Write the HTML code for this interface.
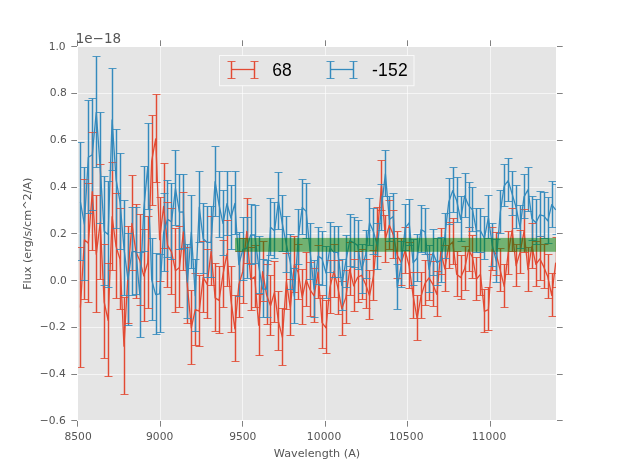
<!DOCTYPE html>
<html lang="en"><head><meta charset="utf-8"><title>Flux vs Wavelength</title>
<style>html,body{margin:0;padding:0;background:#fff}body{width:617px;height:467px;overflow:hidden}</style></head>
<body>
<svg width="617" height="467" viewBox="0 0 617 467" style="display:block;font-family:'DejaVu Sans','Liberation Sans',sans-serif">
<defs><clipPath id="ax"><rect x="78" y="47" width="478" height="373"/></clipPath></defs>
<rect width="617" height="467" fill="#fff"/>
<rect x="78" y="47" width="478" height="373" fill="#E5E5E5"/>
<path d="M77.5 47V420M160.5 47V420M242.5 47V420M325.5 47V420M407.5 47V420M490.5 47V420M78 420.5H556M78 374.5H556M78 327.5H556M78 280.5H556M78 233.5H556M78 187.5H556M78 140.5H556M78 93.5H556M78 46.5H556" stroke="#fff" stroke-width="1" stroke-opacity="0.62" fill="none"/>
<path d="M77.5 421v5.7M77.5 46v-5.7M160.5 421v5.7M160.5 46v-5.7M242.5 421v5.7M242.5 46v-5.7M325.5 421v5.7M325.5 46v-5.7M407.5 421v5.7M407.5 46v-5.7M490.5 421v5.7M490.5 46v-5.7M77 420.5h-5.7M557 420.5h5.7M77 374.5h-5.7M557 374.5h5.7M77 327.5h-5.7M557 327.5h5.7M77 280.5h-5.7M557 280.5h5.7M77 233.5h-5.7M557 233.5h5.7M77 187.5h-5.7M557 187.5h5.7M77 140.5h-5.7M557 140.5h5.7M77 93.5h-5.7M557 93.5h5.7M77 46.5h-5.7M557 46.5h5.7" stroke="#555" stroke-width="1" stroke-opacity="0.74" fill="none"/>
<g clip-path="url(#ax)">
<path d="M80.5 247.5V367.5M84.5 179.5V299.5M88.5 183.5V302.5M92.5 132.5V250.5M96.5 195.5V312.5M100.5 164.5V279.5M104.5 244.5V358.5M108.5 263.5V376.5M112.5 162.5V270.5M116.5 193.5V298.5M120.5 208.5V309.5M124.5 297.5V394.5M128.5 226.5V323.5M132.5 175.5V270.5M136.5 204.5V298.5M140.5 214.5V305.5M144.5 229.5V321.5M148.5 216.5V308.5M152.5 115.5V205.5M156.5 94.5V182.5M160.5 197.5V281.5M164.5 163.5V248.5M167.5 202.5V287.5M171.5 208.5V294.5M175.5 228.5V312.5M179.5 226.5V307.5M183.5 192.5V270.5M187.5 247.5V323.5M191.5 290.5V364.5M195.5 273.5V345.5M199.5 275.5V346.5M203.5 241.5V312.5M207.5 249.5V318.5M211.5 216.5V285.5M215.5 263.5V331.5M219.5 266.5V333.5M223.5 240.5V307.5M227.5 220.5V286.5M231.5 266.5V332.5M235.5 295.5V361.5M239.5 251.5V317.5M243.5 238.5V303.5M247.5 198.5V263.5M251.5 247.5V310.5M255.5 245.5V307.5M259.5 294.5V355.5M263.5 241.5V301.5M267.5 264.5V324.5M270.5 275.5V335.5M274.5 261.5V322.5M278.5 291.5V350.5M282.5 308.5V365.5M286.5 253.5V309.5M290.5 279.5V335.5M294.5 236.5V292.5M298.5 244.5V299.5M302.5 269.5V324.5M306.5 252.5V306.5M310.5 262.5V316.5M314.5 268.5V322.5M318.5 245.5V298.5M322.5 295.5V348.5M326.5 300.5V353.5M330.5 260.5V313.5M334.5 244.5V297.5M338.5 260.5V314.5M342.5 281.5V335.5M346.5 270.5V323.5M350.5 242.5V295.5M354.5 259.5V311.5M358.5 251.5V302.5M362.5 249.5V299.5M366.5 259.5V308.5M369.5 270.5V319.5M373.5 250.5V300.5M377.5 207.5V256.5M381.5 160.5V210.5M385.5 215.5V262.5M389.5 200.5V249.5M393.5 210.5V258.5M397.5 231.5V278.5M401.5 238.5V285.5M405.5 227.5V273.5M409.5 242.5V288.5M413.5 272.5V318.5M417.5 295.5V340.5M421.5 272.5V318.5M425.5 260.5V305.5M429.5 254.5V300.5M433.5 261.5V306.5M437.5 271.5V316.5M441.5 228.5V274.5M445.5 245.5V291.5M449.5 222.5V268.5M453.5 218.5V264.5M457.5 251.5V296.5M461.5 255.5V299.5M465.5 246.5V290.5M469.5 227.5V271.5M472.5 235.5V278.5M476.5 257.5V300.5M480.5 252.5V295.5M484.5 289.5V332.5M488.5 287.5V330.5M492.5 227.5V270.5M496.5 232.5V275.5M500.5 248.5V291.5M504.5 264.5V307.5M508.5 231.5V274.5M512.5 208.5V251.5M516.5 244.5V286.5M520.5 230.5V273.5M524.5 209.5V252.5M528.5 247.5V291.5M532.5 223.5V268.5M536.5 241.5V286.5M540.5 236.5V280.5M544.5 244.5V288.5M548.5 254.5V298.5M552.5 273.5V316.5M556.5 237.5V287.5" fill="none" stroke="#E24A33" stroke-width="1.45"/>
<path d="M80.5 142.5V260.5M84.5 167.5V280.5M88.5 100.5V213.5M92.5 98.5V210.5M96.5 56.5V167.5M100.5 112.5V223.5M104.5 176.5V285.5M108.5 181.5V287.5M112.5 68.5V170.5M116.5 129.5V228.5M120.5 153.5V249.5M124.5 200.5V295.5M128.5 233.5V325.5M132.5 207.5V295.5M136.5 207.5V294.5M140.5 252.5V337.5M144.5 166.5V251.5M148.5 123.5V209.5M152.5 238.5V320.5M156.5 253.5V334.5M160.5 254.5V332.5M164.5 193.5V271.5M167.5 180.5V257.5M171.5 183.5V259.5M175.5 150.5V225.5M179.5 174.5V249.5M183.5 174.5V248.5M187.5 244.5V318.5M191.5 195.5V268.5M195.5 259.5V331.5M199.5 171.5V242.5M203.5 203.5V273.5M207.5 206.5V277.5M211.5 206.5V277.5M215.5 146.5V216.5M219.5 171.5V237.5M223.5 190.5V255.5M227.5 171.5V235.5M231.5 185.5V249.5M235.5 171.5V234.5M239.5 232.5V296.5M243.5 217.5V280.5M247.5 217.5V278.5M251.5 204.5V264.5M255.5 205.5V263.5M259.5 236.5V293.5M263.5 259.5V317.5M267.5 260.5V317.5M270.5 198.5V255.5M274.5 202.5V258.5M278.5 172.5V229.5M282.5 195.5V251.5M286.5 216.5V272.5M290.5 234.5V289.5M294.5 268.5V323.5M298.5 209.5V264.5M302.5 179.5V234.5M306.5 183.5V238.5M310.5 223.5V279.5M314.5 260.5V317.5M318.5 227.5V284.5M322.5 231.5V285.5M326.5 246.5V298.5M330.5 222.5V272.5M334.5 226.5V277.5M338.5 226.5V277.5M342.5 259.5V310.5M346.5 235.5V287.5M350.5 214.5V266.5M354.5 217.5V267.5M358.5 220.5V269.5M362.5 244.5V293.5M366.5 230.5V278.5M369.5 198.5V245.5M373.5 208.5V254.5M377.5 223.5V269.5M381.5 184.5V230.5M385.5 150.5V196.5M389.5 196.5V241.5M393.5 193.5V238.5M397.5 264.5V309.5M401.5 241.5V287.5M405.5 204.5V250.5M409.5 199.5V245.5M413.5 239.5V285.5M417.5 234.5V281.5M421.5 205.5V252.5M425.5 208.5V254.5M429.5 245.5V292.5M433.5 229.5V275.5M437.5 238.5V285.5M441.5 237.5V282.5M445.5 213.5V258.5M449.5 178.5V224.5M453.5 167.5V212.5M457.5 177.5V222.5M461.5 196.5V241.5M465.5 173.5V217.5M469.5 182.5V227.5M472.5 187.5V231.5M476.5 208.5V252.5M480.5 208.5V252.5M484.5 216.5V259.5M488.5 195.5V238.5M492.5 223.5V266.5M496.5 239.5V282.5M500.5 190.5V233.5M504.5 164.5V206.5M508.5 158.5V201.5M512.5 171.5V215.5M516.5 185.5V228.5M520.5 205.5V248.5M524.5 174.5V218.5M528.5 167.5V211.5M532.5 196.5V240.5M536.5 199.5V244.5M540.5 191.5V236.5M544.5 192.5V238.5M548.5 197.5V243.5M552.5 181.5V227.5M556.5 184.5V234.5" fill="none" stroke="#348ABD" stroke-width="1.45"/>
<polyline points="80.41,307.60 84.37,239.80 88.33,243.30 92.29,191.60 96.25,254.30 100.21,222.60 104.18,302.20 108.14,320.30 112.10,216.70 116.06,246.40 120.02,259.30 123.98,346.20 127.94,275.40 131.90,223.40 135.86,251.90 139.82,260.40 143.78,275.80 147.74,262.80 151.70,160.80 155.67,138.80 159.63,239.70 163.59,206.50 167.55,245.30 171.51,251.80 175.47,270.70 179.43,267.40 183.39,231.80 187.35,285.60 191.31,327.90 195.27,309.70 199.23,311.20 203.19,277.40 207.16,284.40 211.12,251.30 215.08,297.90 219.04,300.40 223.00,274.30 226.96,253.90 230.92,299.80 234.88,328.80 238.84,284.70 242.80,271.40 246.76,231.30 250.72,279.50 254.68,276.90 258.64,325.20 262.61,271.70 266.57,294.90 270.53,305.80 274.49,292.40 278.45,321.70 282.41,337.30 286.37,281.60 290.33,308.20 294.29,264.80 298.25,272.40 302.21,297.40 306.17,279.80 310.13,289.90 314.10,295.80 318.06,272.20 322.02,322.60 325.98,327.80 329.94,287.40 333.90,271.40 337.86,287.70 341.82,308.90 345.78,297.60 349.74,269.30 353.70,285.80 357.66,277.40 361.62,275.30 365.59,284.30 369.55,295.70 373.51,275.80 377.47,232.10 381.43,185.90 385.39,238.90 389.35,225.30 393.31,234.90 397.27,255.40 401.23,262.40 405.19,250.60 409.15,266.20 413.11,295.60 417.08,318.40 421.04,296.20 425.00,283.40 428.96,277.90 432.92,284.40 436.88,294.40 440.84,251.60 444.80,268.80 448.76,245.90 452.72,241.90 456.68,274.30 460.64,277.60 464.60,268.80 468.57,249.90 472.53,257.30 476.49,279.00 480.45,274.30 484.41,311.40 488.37,309.70 492.33,249.40 496.29,254.30 500.25,270.40 504.21,286.40 508.17,253.30 512.13,230.40 516.09,265.60 520.06,252.40 524.02,231.40 527.98,269.70 531.94,246.40 535.90,264.40 539.86,258.90 543.82,266.90 547.78,276.80 551.74,295.40 555.70,262.70" fill="none" stroke="#E24A33" stroke-width="1.3" stroke-linejoin="round"/>
<path d="M76.50 247.5h8.00M76.50 367.5h8.00M80.50 179.5h8.00M80.50 299.5h8.00M84.50 183.5h8.00M84.50 302.5h8.00M88.50 132.5h8.00M88.50 250.5h8.00M92.50 195.5h8.00M92.50 312.5h8.00M96.50 164.5h8.00M96.50 279.5h8.00M100.50 244.5h8.00M100.50 358.5h8.00M104.50 263.5h8.00M104.50 376.5h8.00M108.50 162.5h8.00M108.50 270.5h8.00M112.50 193.5h8.00M112.50 298.5h8.00M116.50 208.5h8.00M116.50 309.5h8.00M120.50 297.5h8.00M120.50 394.5h8.00M124.50 226.5h8.00M124.50 323.5h8.00M128.50 175.5h8.00M128.50 270.5h8.00M132.50 204.5h8.00M132.50 298.5h8.00M136.50 214.5h8.00M136.50 305.5h8.00M140.50 229.5h8.00M140.50 321.5h8.00M144.50 216.5h8.00M144.50 308.5h8.00M148.50 115.5h8.00M148.50 205.5h8.00M152.50 94.5h8.00M152.50 182.5h8.00M156.50 197.5h8.00M156.50 281.5h8.00M160.50 163.5h8.00M160.50 248.5h8.00M163.50 202.5h8.00M163.50 287.5h8.00M167.50 208.5h8.00M167.50 294.5h8.00M171.50 228.5h8.00M171.50 312.5h8.00M175.50 226.5h8.00M175.50 307.5h8.00M179.50 192.5h8.00M179.50 270.5h8.00M183.50 247.5h8.00M183.50 323.5h8.00M187.50 290.5h8.00M187.50 364.5h8.00M191.50 273.5h8.00M191.50 345.5h8.00M195.50 275.5h8.00M195.50 346.5h8.00M199.50 241.5h8.00M199.50 312.5h8.00M203.50 249.5h8.00M203.50 318.5h8.00M207.50 216.5h8.00M207.50 285.5h8.00M211.50 263.5h8.00M211.50 331.5h8.00M215.50 266.5h8.00M215.50 333.5h8.00M219.50 240.5h8.00M219.50 307.5h8.00M223.50 220.5h8.00M223.50 286.5h8.00M227.50 266.5h8.00M227.50 332.5h8.00M231.50 295.5h8.00M231.50 361.5h8.00M235.50 251.5h8.00M235.50 317.5h8.00M239.50 238.5h8.00M239.50 303.5h8.00M243.50 198.5h8.00M243.50 263.5h8.00M247.50 247.5h8.00M247.50 310.5h8.00M251.50 245.5h8.00M251.50 307.5h8.00M255.50 294.5h8.00M255.50 355.5h8.00M259.50 241.5h8.00M259.50 301.5h8.00M263.50 264.5h8.00M263.50 324.5h8.00M266.50 275.5h8.00M266.50 335.5h8.00M270.50 261.5h8.00M270.50 322.5h8.00M274.50 291.5h8.00M274.50 350.5h8.00M278.50 308.5h8.00M278.50 365.5h8.00M282.50 253.5h8.00M282.50 309.5h8.00M286.50 279.5h8.00M286.50 335.5h8.00M290.50 236.5h8.00M290.50 292.5h8.00M294.50 244.5h8.00M294.50 299.5h8.00M298.50 269.5h8.00M298.50 324.5h8.00M302.50 252.5h8.00M302.50 306.5h8.00M306.50 262.5h8.00M306.50 316.5h8.00M310.50 268.5h8.00M310.50 322.5h8.00M314.50 245.5h8.00M314.50 298.5h8.00M318.50 295.5h8.00M318.50 348.5h8.00M322.50 300.5h8.00M322.50 353.5h8.00M326.50 260.5h8.00M326.50 313.5h8.00M330.50 244.5h8.00M330.50 297.5h8.00M334.50 260.5h8.00M334.50 314.5h8.00M338.50 281.5h8.00M338.50 335.5h8.00M342.50 270.5h8.00M342.50 323.5h8.00M346.50 242.5h8.00M346.50 295.5h8.00M350.50 259.5h8.00M350.50 311.5h8.00M354.50 251.5h8.00M354.50 302.5h8.00M358.50 249.5h8.00M358.50 299.5h8.00M362.50 259.5h8.00M362.50 308.5h8.00M365.50 270.5h8.00M365.50 319.5h8.00M369.50 250.5h8.00M369.50 300.5h8.00M373.50 207.5h8.00M373.50 256.5h8.00M377.50 160.5h8.00M377.50 210.5h8.00M381.50 215.5h8.00M381.50 262.5h8.00M385.50 200.5h8.00M385.50 249.5h8.00M389.50 210.5h8.00M389.50 258.5h8.00M393.50 231.5h8.00M393.50 278.5h8.00M397.50 238.5h8.00M397.50 285.5h8.00M401.50 227.5h8.00M401.50 273.5h8.00M405.50 242.5h8.00M405.50 288.5h8.00M409.50 272.5h8.00M409.50 318.5h8.00M413.50 295.5h8.00M413.50 340.5h8.00M417.50 272.5h8.00M417.50 318.5h8.00M421.50 260.5h8.00M421.50 305.5h8.00M425.50 254.5h8.00M425.50 300.5h8.00M429.50 261.5h8.00M429.50 306.5h8.00M433.50 271.5h8.00M433.50 316.5h8.00M437.50 228.5h8.00M437.50 274.5h8.00M441.50 245.5h8.00M441.50 291.5h8.00M445.50 222.5h8.00M445.50 268.5h8.00M449.50 218.5h8.00M449.50 264.5h8.00M453.50 251.5h8.00M453.50 296.5h8.00M457.50 255.5h8.00M457.50 299.5h8.00M461.50 246.5h8.00M461.50 290.5h8.00M465.50 227.5h8.00M465.50 271.5h8.00M468.50 235.5h8.00M468.50 278.5h8.00M472.50 257.5h8.00M472.50 300.5h8.00M476.50 252.5h8.00M476.50 295.5h8.00M480.50 289.5h8.00M480.50 332.5h8.00M484.50 287.5h8.00M484.50 330.5h8.00M488.50 227.5h8.00M488.50 270.5h8.00M492.50 232.5h8.00M492.50 275.5h8.00M496.50 248.5h8.00M496.50 291.5h8.00M500.50 264.5h8.00M500.50 307.5h8.00M504.50 231.5h8.00M504.50 274.5h8.00M508.50 208.5h8.00M508.50 251.5h8.00M512.50 244.5h8.00M512.50 286.5h8.00M516.50 230.5h8.00M516.50 273.5h8.00M520.50 209.5h8.00M520.50 252.5h8.00M524.50 247.5h8.00M524.50 291.5h8.00M528.50 223.5h8.00M528.50 268.5h8.00M532.50 241.5h8.00M532.50 286.5h8.00M536.50 236.5h8.00M536.50 280.5h8.00M540.50 244.5h8.00M540.50 288.5h8.00M544.50 254.5h8.00M544.50 298.5h8.00M548.50 273.5h8.00M548.50 316.5h8.00M552.50 237.5h8.00M552.50 287.5h8.00" fill="none" stroke="#E24A33" stroke-width="0.85"/>
<polyline points="80.41,201.80 84.37,224.10 88.33,157.20 92.29,154.80 96.25,112.30 100.21,168.10 104.18,231.20 108.14,234.60 112.10,119.80 116.06,179.30 120.02,201.80 123.98,248.40 127.94,279.60 131.90,251.80 135.86,251.40 139.82,294.90 143.78,209.30 147.74,166.80 151.70,279.80 155.67,294.60 159.63,293.80 163.59,232.70 167.55,219.40 171.51,221.80 175.47,188.50 179.43,212.10 183.39,211.80 187.35,282.00 191.31,232.20 195.27,295.70 199.23,207.20 203.19,238.80 207.16,242.40 211.12,242.40 215.08,181.60 219.04,204.80 223.00,223.30 226.96,203.70 230.92,218.00 234.88,203.40 238.84,264.70 242.80,249.70 246.76,248.20 250.72,234.90 254.68,235.00 258.64,265.40 262.61,289.00 266.57,289.10 270.53,227.30 274.49,230.80 278.45,201.30 282.41,224.10 286.37,244.70 290.33,262.30 294.29,296.10 298.25,237.40 302.21,207.50 306.17,211.40 310.13,251.80 314.10,289.20 318.06,256.10 322.02,258.60 325.98,273.00 329.94,247.70 333.90,252.30 337.86,252.40 341.82,285.40 345.78,261.70 349.74,240.80 353.70,242.70 357.66,245.40 361.62,269.80 365.59,254.90 369.55,222.80 373.51,231.70 377.47,246.60 381.43,207.90 385.39,173.90 389.35,219.40 393.31,216.40 397.27,287.30 401.23,264.80 405.19,227.90 409.15,222.80 413.11,262.70 417.08,258.30 421.04,229.60 425.00,231.80 428.96,269.30 432.92,252.90 436.88,262.40 440.84,260.40 444.80,236.40 448.76,201.90 452.72,190.70 456.68,200.60 460.64,219.40 464.60,195.90 468.57,205.60 472.53,209.90 476.49,230.80 480.45,230.80 484.41,238.20 488.37,217.70 492.33,245.70 496.29,261.20 500.25,212.30 504.21,185.80 508.17,180.60 512.13,193.90 516.09,207.40 520.06,227.40 524.02,196.90 527.98,189.70 531.94,218.80 535.90,222.70 539.86,214.80 543.82,215.80 547.78,220.90 551.74,204.70 555.70,209.90" fill="none" stroke="#348ABD" stroke-width="1.3" stroke-linejoin="round"/>
<path d="M76.50 142.5h8.00M76.50 260.5h8.00M80.50 167.5h8.00M80.50 280.5h8.00M84.50 100.5h8.00M84.50 213.5h8.00M88.50 98.5h8.00M88.50 210.5h8.00M92.50 56.5h8.00M92.50 167.5h8.00M96.50 112.5h8.00M96.50 223.5h8.00M100.50 176.5h8.00M100.50 285.5h8.00M104.50 181.5h8.00M104.50 287.5h8.00M108.50 68.5h8.00M108.50 170.5h8.00M112.50 129.5h8.00M112.50 228.5h8.00M116.50 153.5h8.00M116.50 249.5h8.00M120.50 200.5h8.00M120.50 295.5h8.00M124.50 233.5h8.00M124.50 325.5h8.00M128.50 207.5h8.00M128.50 295.5h8.00M132.50 207.5h8.00M132.50 294.5h8.00M136.50 252.5h8.00M136.50 337.5h8.00M140.50 166.5h8.00M140.50 251.5h8.00M144.50 123.5h8.00M144.50 209.5h8.00M148.50 238.5h8.00M148.50 320.5h8.00M152.50 253.5h8.00M152.50 334.5h8.00M156.50 254.5h8.00M156.50 332.5h8.00M160.50 193.5h8.00M160.50 271.5h8.00M163.50 180.5h8.00M163.50 257.5h8.00M167.50 183.5h8.00M167.50 259.5h8.00M171.50 150.5h8.00M171.50 225.5h8.00M175.50 174.5h8.00M175.50 249.5h8.00M179.50 174.5h8.00M179.50 248.5h8.00M183.50 244.5h8.00M183.50 318.5h8.00M187.50 195.5h8.00M187.50 268.5h8.00M191.50 259.5h8.00M191.50 331.5h8.00M195.50 171.5h8.00M195.50 242.5h8.00M199.50 203.5h8.00M199.50 273.5h8.00M203.50 206.5h8.00M203.50 277.5h8.00M207.50 206.5h8.00M207.50 277.5h8.00M211.50 146.5h8.00M211.50 216.5h8.00M215.50 171.5h8.00M215.50 237.5h8.00M219.50 190.5h8.00M219.50 255.5h8.00M223.50 171.5h8.00M223.50 235.5h8.00M227.50 185.5h8.00M227.50 249.5h8.00M231.50 171.5h8.00M231.50 234.5h8.00M235.50 232.5h8.00M235.50 296.5h8.00M239.50 217.5h8.00M239.50 280.5h8.00M243.50 217.5h8.00M243.50 278.5h8.00M247.50 204.5h8.00M247.50 264.5h8.00M251.50 205.5h8.00M251.50 263.5h8.00M255.50 236.5h8.00M255.50 293.5h8.00M259.50 259.5h8.00M259.50 317.5h8.00M263.50 260.5h8.00M263.50 317.5h8.00M266.50 198.5h8.00M266.50 255.5h8.00M270.50 202.5h8.00M270.50 258.5h8.00M274.50 172.5h8.00M274.50 229.5h8.00M278.50 195.5h8.00M278.50 251.5h8.00M282.50 216.5h8.00M282.50 272.5h8.00M286.50 234.5h8.00M286.50 289.5h8.00M290.50 268.5h8.00M290.50 323.5h8.00M294.50 209.5h8.00M294.50 264.5h8.00M298.50 179.5h8.00M298.50 234.5h8.00M302.50 183.5h8.00M302.50 238.5h8.00M306.50 223.5h8.00M306.50 279.5h8.00M310.50 260.5h8.00M310.50 317.5h8.00M314.50 227.5h8.00M314.50 284.5h8.00M318.50 231.5h8.00M318.50 285.5h8.00M322.50 246.5h8.00M322.50 298.5h8.00M326.50 222.5h8.00M326.50 272.5h8.00M330.50 226.5h8.00M330.50 277.5h8.00M334.50 226.5h8.00M334.50 277.5h8.00M338.50 259.5h8.00M338.50 310.5h8.00M342.50 235.5h8.00M342.50 287.5h8.00M346.50 214.5h8.00M346.50 266.5h8.00M350.50 217.5h8.00M350.50 267.5h8.00M354.50 220.5h8.00M354.50 269.5h8.00M358.50 244.5h8.00M358.50 293.5h8.00M362.50 230.5h8.00M362.50 278.5h8.00M365.50 198.5h8.00M365.50 245.5h8.00M369.50 208.5h8.00M369.50 254.5h8.00M373.50 223.5h8.00M373.50 269.5h8.00M377.50 184.5h8.00M377.50 230.5h8.00M381.50 150.5h8.00M381.50 196.5h8.00M385.50 196.5h8.00M385.50 241.5h8.00M389.50 193.5h8.00M389.50 238.5h8.00M393.50 264.5h8.00M393.50 309.5h8.00M397.50 241.5h8.00M397.50 287.5h8.00M401.50 204.5h8.00M401.50 250.5h8.00M405.50 199.5h8.00M405.50 245.5h8.00M409.50 239.5h8.00M409.50 285.5h8.00M413.50 234.5h8.00M413.50 281.5h8.00M417.50 205.5h8.00M417.50 252.5h8.00M421.50 208.5h8.00M421.50 254.5h8.00M425.50 245.5h8.00M425.50 292.5h8.00M429.50 229.5h8.00M429.50 275.5h8.00M433.50 238.5h8.00M433.50 285.5h8.00M437.50 237.5h8.00M437.50 282.5h8.00M441.50 213.5h8.00M441.50 258.5h8.00M445.50 178.5h8.00M445.50 224.5h8.00M449.50 167.5h8.00M449.50 212.5h8.00M453.50 177.5h8.00M453.50 222.5h8.00M457.50 196.5h8.00M457.50 241.5h8.00M461.50 173.5h8.00M461.50 217.5h8.00M465.50 182.5h8.00M465.50 227.5h8.00M468.50 187.5h8.00M468.50 231.5h8.00M472.50 208.5h8.00M472.50 252.5h8.00M476.50 208.5h8.00M476.50 252.5h8.00M480.50 216.5h8.00M480.50 259.5h8.00M484.50 195.5h8.00M484.50 238.5h8.00M488.50 223.5h8.00M488.50 266.5h8.00M492.50 239.5h8.00M492.50 282.5h8.00M496.50 190.5h8.00M496.50 233.5h8.00M500.50 164.5h8.00M500.50 206.5h8.00M504.50 158.5h8.00M504.50 201.5h8.00M508.50 171.5h8.00M508.50 215.5h8.00M512.50 185.5h8.00M512.50 228.5h8.00M516.50 205.5h8.00M516.50 248.5h8.00M520.50 174.5h8.00M520.50 218.5h8.00M524.50 167.5h8.00M524.50 211.5h8.00M528.50 196.5h8.00M528.50 240.5h8.00M532.50 199.5h8.00M532.50 244.5h8.00M536.50 191.5h8.00M536.50 236.5h8.00M540.50 192.5h8.00M540.50 238.5h8.00M544.50 197.5h8.00M544.50 243.5h8.00M548.50 181.5h8.00M548.50 227.5h8.00M552.50 184.5h8.00M552.50 234.5h8.00" fill="none" stroke="#348ABD" stroke-width="0.85"/>
<rect x="235" y="237.9" width="326" height="13.9" fill="rgb(0,128,0)" fill-opacity="0.5"/>
</g>
<text x="78.10" y="440" font-size="10.7" fill="#555" text-anchor="middle">8500</text>
<text x="159.65" y="440" font-size="10.7" fill="#555" text-anchor="middle">9000</text>
<text x="242.75" y="440" font-size="10.7" fill="#555" text-anchor="middle">9500</text>
<text x="324.15" y="440" font-size="10.7" fill="#555" text-anchor="middle" letter-spacing="0.15">10000</text>
<text x="406.35" y="440" font-size="10.7" fill="#555" text-anchor="middle" letter-spacing="0.15">10500</text>
<text x="489.05" y="440" font-size="10.7" fill="#555" text-anchor="middle" letter-spacing="0.15">11000</text>
<text x="65.8" y="424" font-size="10.7" fill="#555" text-anchor="end">−0.6</text>
<text x="65.8" y="377" font-size="10.7" fill="#555" text-anchor="end">−0.4</text>
<text x="65.8" y="330" font-size="10.7" fill="#555" text-anchor="end">−0.2</text>
<text x="66.85" y="284" font-size="10.7" fill="#555" text-anchor="end">0.0</text>
<text x="66.85" y="237" font-size="10.7" fill="#555" text-anchor="end">0.2</text>
<text x="66.85" y="190" font-size="10.7" fill="#555" text-anchor="end">0.4</text>
<text x="66.85" y="143" font-size="10.7" fill="#555" text-anchor="end">0.6</text>
<text x="66.85" y="96" font-size="10.7" fill="#555" text-anchor="end">0.8</text>
<text x="65.65" y="50" font-size="10.7" fill="#555" text-anchor="end">1.0</text>
<text x="75.7" y="43" font-size="13.5" fill="#555">1e−18</text>
<text x="317" y="457" font-size="11.2" fill="#555" text-anchor="middle">Wavelength (A)</text>
<text transform="translate(30.7,233.7) rotate(-90)" font-size="11.2" fill="#555" text-anchor="middle">Flux (erg/s/cm^2/A)</text>
<rect x="219.5" y="55.5" width="194.5" height="30.2" fill="#E5E5E5" stroke="#fff" stroke-opacity="0.75" stroke-width="1"/>
<path d="M231.5 69.5H254.5" stroke="#E24A33" stroke-width="1.3" fill="none"/><path d="M231.5 61.5v17M254.5 61.5v17" stroke="#E24A33" stroke-width="1.45" fill="none"/><path d="M227.5 61.5h8.0M227.5 78.5h8.0M250.5 61.5h8.0M250.5 78.5h8.0" stroke="#E24A33" stroke-width="0.85" fill="none"/>
<path d="M330.5 69.5H353.5" stroke="#348ABD" stroke-width="1.3" fill="none"/><path d="M330.5 61.5v17M353.5 61.5v17" stroke="#348ABD" stroke-width="1.45" fill="none"/><path d="M326.5 61.5h8.0M326.5 78.5h8.0M349.5 61.5h8.0M349.5 78.5h8.0" stroke="#348ABD" stroke-width="0.85" fill="none"/>
<text x="272.2" y="76.2" font-size="17.5" fill="#000" font-family="'Liberation Sans',sans-serif">68</text>
<text x="372" y="76.2" font-size="17.5" fill="#000" letter-spacing="0.25" font-family="'Liberation Sans',sans-serif">-152</text>
</svg>
</body></html>
